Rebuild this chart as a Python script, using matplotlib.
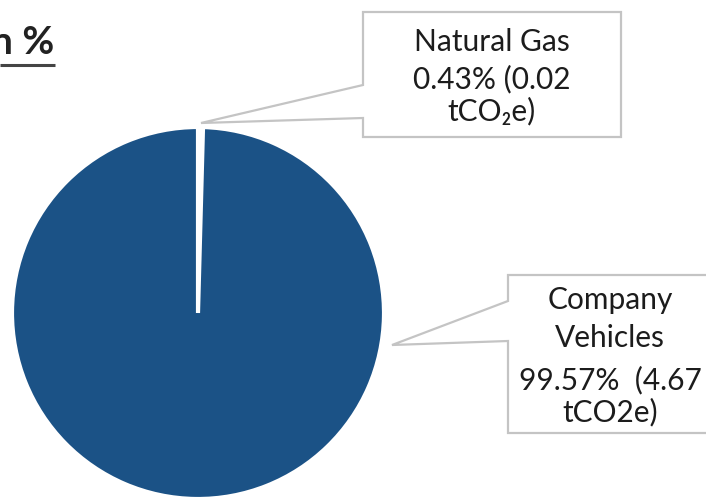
import matplotlib
matplotlib.use("Agg")

import matplotlib.pyplot as plt
from matplotlib.patches import Polygon

plt.rcParams['font.family'] = ['Lato', 'DejaVu Sans']

# Emission sources
sources = ["Natural Gas", "Company Vehicles"]
shares = [0.43, 99.57]          # percent
tonnes = [0.02, 4.67]           # tCO2e
colors = ["white", "#1b5286"]

W, H = 706, 498
fig = plt.figure(figsize=(W / 100, H / 100), dpi=100)
ax = fig.add_axes([0, 0, 1, 1])


def Y(y):
    # pixel row (from top) -> data y
    return H - y


ax.pie(shares, colors=colors, startangle=90, counterclock=False,
       center=(198, Y(313)), radius=186,
       wedgeprops=dict(edgecolor="white", linewidth=3))

ax.set_xlim(0, W)
ax.set_ylim(0, H)
ax.set_aspect("equal")
ax.axis("off")

border = "#c4c4c4"
txt = "#1c1c1c"


def callout(left, top, right, bottom, tip, p_top, p_bot):
    pts = [(left, top), (right, top), (right, bottom), (left, bottom),
           (left, p_bot), tip, (left, p_top)]
    poly = Polygon([(x, Y(y)) for x, y in pts], closed=True,
                   facecolor="white", edgecolor=border, linewidth=1.6,
                   clip_on=False, zorder=3)
    ax.add_patch(poly)


# Natural Gas label
callout(363, 12, 621, 137, (201, 123), 85, 118)
ng_lines = [sources[0], f"{shares[0]:.2f}% ({tonnes[0]:.2f}", "tCO\u2082e)"]
for line, y in zip(ng_lines, [42, 79, 111]):
    ax.text(492, Y(y), line, ha="center", va="center", fontsize=21.5,
            color=txt, zorder=4)

# Company Vehicles label
callout(508, 275, 720, 433, (392, 345), 301, 341)
cv_lines = ["Company", "Vehicles", f"{shares[1]:.2f}%  ({tonnes[1]:.2f}", "tCO2e)"]
for line, y in zip(cv_lines, [300, 338, 380, 412]):
    ax.text(610, Y(y), line, ha="center", va="center", fontsize=21.5,
            color=txt, zorder=4)

# cut-off title at the top left
ax.text(54, Y(42), "n %", ha="right", va="center", fontsize=28,
        fontweight="bold", color="#222222")
ax.plot([0, 55], [Y(65), Y(65)], color="#444444", linewidth=2.2,
        solid_capstyle="butt")

fig.savefig("out.png", dpi=100)
